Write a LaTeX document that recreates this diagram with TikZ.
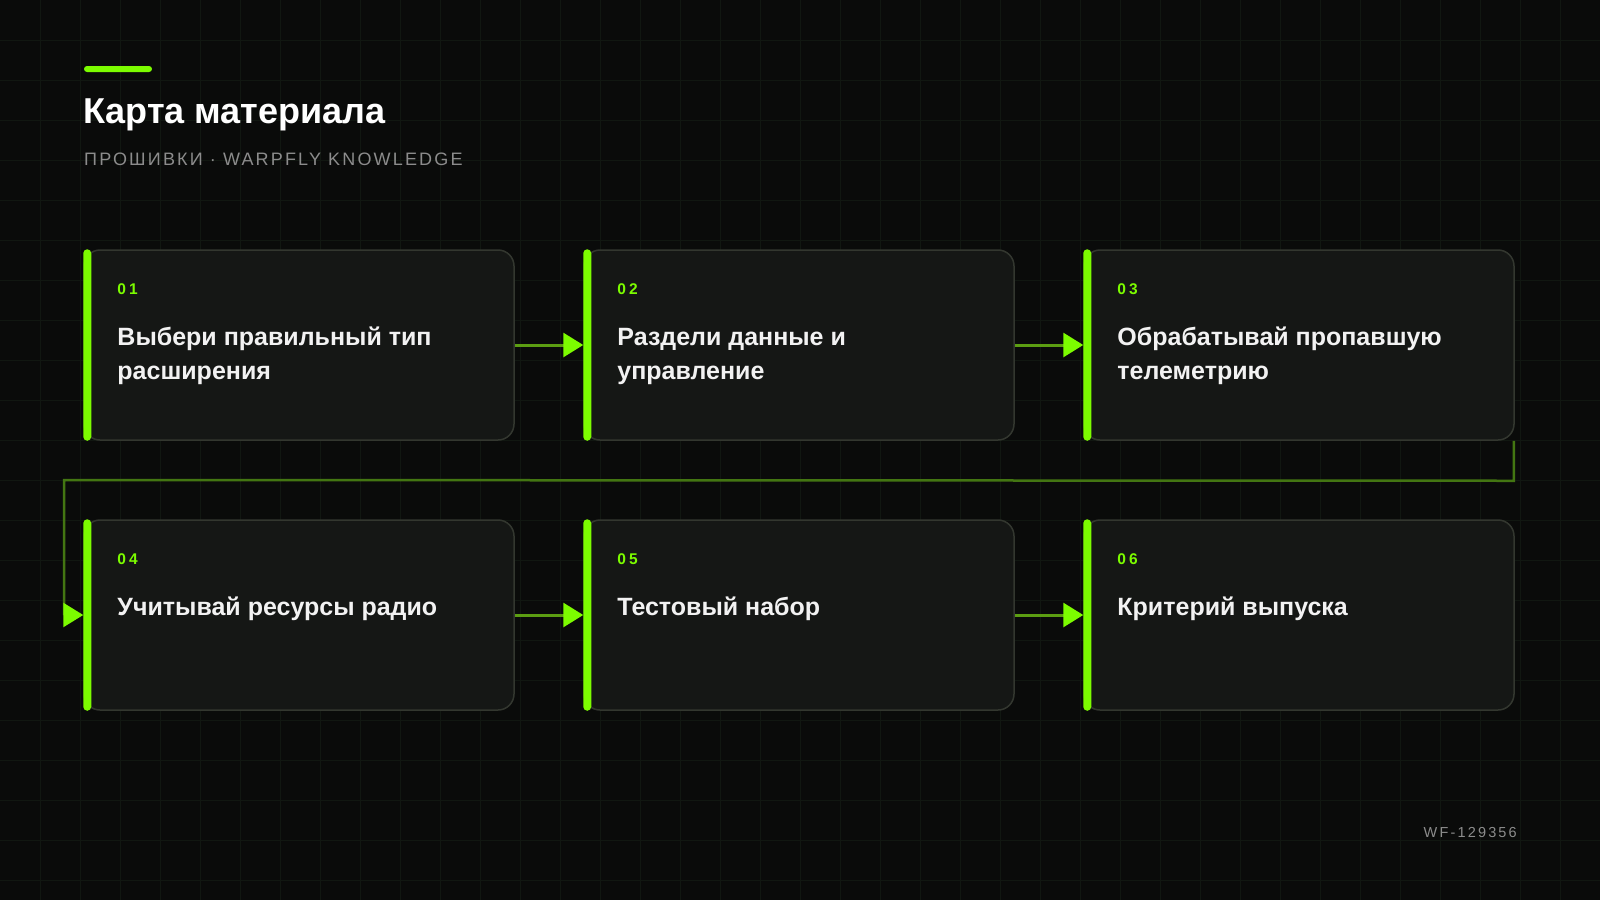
\documentclass[tikz,border=0pt]{standalone}
\usepackage{fontspec}
\setmainfont{Liberation Sans}
\usetikzlibrary{arrows.meta,calc}
\definecolor{bg}{HTML}{0A0B0A}
\definecolor{gridc}{HTML}{111711}
\definecolor{cardfill}{HTML}{151715}
\definecolor{cardline}{HTML}{33372F}
\definecolor{lime}{HTML}{7CFC00}
\definecolor{linkc}{HTML}{5C9E12}
\definecolor{elbowc}{HTML}{437612}
\definecolor{titlec}{HTML}{F2F2F2}
\definecolor{subc}{HTML}{8C8C8C}
\tikzset{
  card/.style={draw=cardline, line width=1.5pt, fill=cardfill, rounded corners=16pt,
    minimum width=430pt, minimum height=190pt, inner sep=0pt},
  accent/.style={fill=lime, rounded corners=4pt},
  numtxt/.style={anchor=west, inner sep=0pt, text=lime,
    font=\fontsize{15.5}{18}\selectfont\bfseries\addfontfeatures{LetterSpace=20}},
  ttl/.style={anchor=base west, inner sep=0pt, text=titlec,
    font=\fontsize{25}{34}\selectfont\bfseries},
  link/.style={draw=linkc, line width=3pt, -{Triangle[length=20pt,width=24pt,color=lime]}},
  elbow/.style={draw=elbowc, line width=2.5pt, -{Triangle[length=20pt,width=24pt,color=lime]}},
}
\newcommand{\mkcard}[5]{%
  \node[card] (#1) at (#2,#3) {};
  \fill[accent] ($(#1.north west)+(0,0)$) rectangle ($(#1.south west)+(8,0)$);
  \node[numtxt] (#1n) at ($(#1.north west)+(34,40)$) {#4};
  \node[ttl] (#1t) at ($(#1.north west)+(34,96)$) {\parbox[t]{390pt}{\raggedright #5}};
}
\begin{document}
\begin{tikzpicture}[x=1pt,y=-1pt]
\useasboundingbox (0,0) rectangle (1600,900);
\fill[bg] (0,0) rectangle (1600,900);
\foreach \i in {40,80,...,1560} \draw[gridc, line width=1pt] (\i,0) -- (\i,900);
\foreach \j in {40,80,...,880} \draw[gridc, line width=1pt] (0,\j) -- (1600,\j);
% header
\fill[lime, rounded corners=3pt] (84,66) rectangle (152,72);
\node[anchor=base west, inner sep=0pt, text=white, font=\fontsize{36}{40}\selectfont\bfseries] (head) at (83,123) {Карта материала};
\node[anchor=base west, inner sep=0pt, text=subc, font=\fontsize{18}{20}\selectfont\addfontfeatures{LetterSpace=12}] (sub) at (84,165) {ПРОШИВКИ · WARPFLY KNOWLEDGE};
% cards
\mkcard{c1}{299}{345}{01}{Выбери правильный тип\\расширения}
\mkcard{c2}{799}{345}{02}{Раздели данные и\\управление}
\mkcard{c3}{1299}{345}{03}{Обрабатывай пропавшую\\телеметрию}
\mkcard{c4}{299}{615}{04}{Учитывай ресурсы радио}
\mkcard{c5}{799}{615}{05}{Тестовый набор}
\mkcard{c6}{1299}{615}{06}{Критерий выпуска}
% connectors
\draw[link] (c1.east) -- (c2.west);
\draw[link] (c2.east) -- (c3.west);
\draw[link] (c4.east) -- (c5.west);
\draw[link] (c5.east) -- (c6.west);
\coordinate (e0) at ($(c3.south east)+(-1,0)$);
\coordinate (e1) at ($(c3.south east)+(-1,40)$);
\coordinate (e2) at (64,480);
\coordinate (e3) at (64,615);
\draw[elbow] (e0) -- (e1) -- (e2) -- (e3) -- (c4.west);
% footer
\node[anchor=base east, inner sep=0pt, text=subc, font=\fontsize{14.5}{16}\selectfont\addfontfeatures{LetterSpace=15}] (code) at (1517,837) {WF-129356};
\end{tikzpicture}
\end{document}
